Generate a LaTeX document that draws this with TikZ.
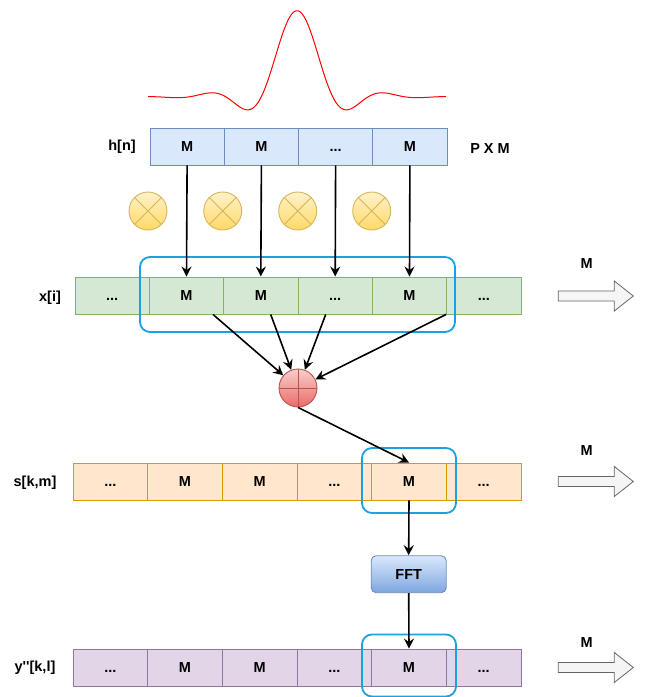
\documentclass[tikz,border=0pt]{standalone}
\usepackage{fontspec}
\setmainfont{Liberation Sans}
\usetikzlibrary{arrows.meta}
\definecolor{hfill}{HTML}{DAE8FC}\definecolor{hdraw}{HTML}{6C8EBF}
\definecolor{gfill}{HTML}{D5E8D4}\definecolor{gdraw}{HTML}{82B366}
\definecolor{ofill}{HTML}{FFE6CC}\definecolor{odraw}{HTML}{D79B00}
\definecolor{pfill}{HTML}{E1D5E7}\definecolor{pdraw}{HTML}{9673A6}
\definecolor{yfillA}{HTML}{FFF2CC}\definecolor{yfillB}{HTML}{FFD966}\definecolor{ydraw}{HTML}{D6B656}
\definecolor{rfillA}{HTML}{F8CECC}\definecolor{rfillB}{HTML}{EA6B66}\definecolor{rdraw}{HTML}{B85450}
\definecolor{fftB}{HTML}{7EA6E0}
\definecolor{selblue}{HTML}{1BA1E2}
\definecolor{arrfill}{HTML}{F5F5F5}\definecolor{arrdraw}{HTML}{666666}
\definecolor{sincred}{HTML}{FF0000}
\begin{document}
\begin{tikzpicture}[x=1pt,y=-1pt,
  every node/.style={font=\fontsize{14.5}{17}\selectfont\bfseries, inner sep=0pt},
  cell/.style={draw, line width=0.9pt, minimum height=37pt, text height=10.4pt, text depth=0pt},
  hcell/.style={cell, fill=hfill, draw=hdraw, minimum width=74.25pt},
  xcell/.style={cell, fill=gfill, draw=gdraw, minimum width=74.33pt},
  scell/.style={cell, fill=ofill, draw=odraw, minimum width=74.67pt},
  ycell/.style={cell, fill=pfill, draw=pdraw, minimum width=74.67pt},
  mult/.style={circle, draw=ydraw, line width=0.9pt, top color=yfillA, bottom color=yfillB, minimum size=38pt},
  adder/.style={circle, draw=rdraw, line width=0.9pt, top color=rfillA, bottom color=rfillB, minimum size=38pt},
  selbox/.style={draw=selblue, line width=1.8pt, rounded corners=10pt},
  fftbox/.style={draw=hdraw, line width=0.9pt, rounded corners=5pt, top color=hfill, bottom color=fftB, minimum width=75pt, minimum height=37pt, text height=10.4pt, text depth=0pt},
  arr/.style={-{Stealth[length=10pt,width=10pt,inset=3.5pt]}, line width=1.6pt},
  blockarrow/.pic={\draw[fill=arrfill, draw=arrdraw, line width=0.8pt]
      (0,-5) -- (56,-5) -- (56,-15) -- (75,0) -- (56,15) -- (56,5) -- (0,5) -- cycle;}
]
\useasboundingbox (0,0) rectangle (647,697);

% sinc curve
\draw[sincred, line width=1pt] plot[domain=-149:149, samples=200, smooth]
  ({\x+297}, {96.7 - 86*sin(deg(\x/11.36))/(\x/11.36)*exp(-1*(\x/84.7)*(\x/84.7))});

% h row
\node[hcell] (h1) at (187.1,146.5) {M};
\node[hcell] (h2) at (261.4,146.5) {M};
\node[hcell] (h3) at (335.6,146.5) {...};
\node[hcell] (h4) at (409.9,146.5) {M};
\node (hl) at (122,147) {h[n]};
\node (pxm) at (490,149) {P X M};

% multipliers
\foreach \i/\xx in {1/148,2/222.7,3/297.7,4/371.7}{
  \node[mult] (m\i) at (\xx,211) {};
  \draw[ydraw, line width=0.9pt] (m\i.north west) -- (m\i.south east) (m\i.north east) -- (m\i.south west);
}

% x row
\node[xcell] (x1) at (112.2,295.5) {...};
\node[xcell] (x2) at (186.5,295.5) {M};
\node[xcell] (x3) at (260.8,295.5) {M};
\node[xcell] (x4) at (335.2,295.5) {...};
\node[xcell] (x5) at (409.5,295.5) {M};
\node[xcell] (x6) at (483.8,295.5) {...};
\node[selbox, minimum width=315pt, minimum height=75pt] (bx) at (297.5,294.5) {};
\node (xl) at (50,298) {x[i]};

% arrows h -> x
\draw[arr] (h1.south) -- (x2.north);
\draw[arr] (h2.south) -- (x3.north);
\draw[arr] (h3.south) -- (x4.north);
\draw[arr] (h4.south) -- (x5.north);

% adder
\node[adder] (add) at (298,388) {};
\draw[rdraw, line width=0.9pt] (add.north) -- (add.south) (add.west) -- (add.east);
\draw[arr] ([xshift=26.5pt]x2.south) -- (add);
\draw[arr] ([xshift=9.9pt]x3.south) -- (add);
\draw[arr] ([xshift=-9.5pt]x4.south) -- (add);
\draw[arr] ([xshift=-1pt]x5.south east) -- (add);

% s row
\node[scell] (s1) at (110.3,481.5) {...};
\node[scell] (s2) at (185.0,481.5) {M};
\node[scell] (s3) at (259.7,481.5) {M};
\node[scell] (s4) at (334.3,481.5) {...};
\node[scell] (s5) at (409.0,481.5) {M};
\node[scell] (s6) at (483.7,481.5) {...};
\node[selbox, minimum width=94pt, minimum height=65pt] (bs) at (409,480.5) {};
\node (sl) at (35,483) {s[k,m]};
\draw[arr] (add.south) -- (s5.north);

% FFT
\node[fftbox] (fft) at (408.7,574.2) {FFT};
\draw[arr] (s5.south) -- (fft.north);

% y row
\node[ycell] (y1) at (110.3,667.5) {...};
\node[ycell] (y2) at (185.0,667.5) {M};
\node[ycell] (y3) at (259.7,667.5) {M};
\node[ycell] (y4) at (334.3,667.5) {...};
\node[ycell] (y5) at (409.0,667.5) {M};
\node[ycell] (y6) at (483.7,667.5) {...};
\node[selbox, minimum width=94pt, minimum height=62pt] (by) at (409,665.5) {};
\node (yl) at (35,668) {y\textquotesingle\textquotesingle[k,l]};
\draw[arr] (fft.south) -- (y5.north);

% right block arrows
\pic at (558.3,296) {blockarrow};
\node (ma1) at (586.7,264) {M};
\pic at (558.3,481.5) {blockarrow};
\node (ma2) at (586.7,450.7) {M};
\pic at (558.3,667.5) {blockarrow};
\node (ma3) at (586.7,643) {M};
\end{tikzpicture}
\end{document}
